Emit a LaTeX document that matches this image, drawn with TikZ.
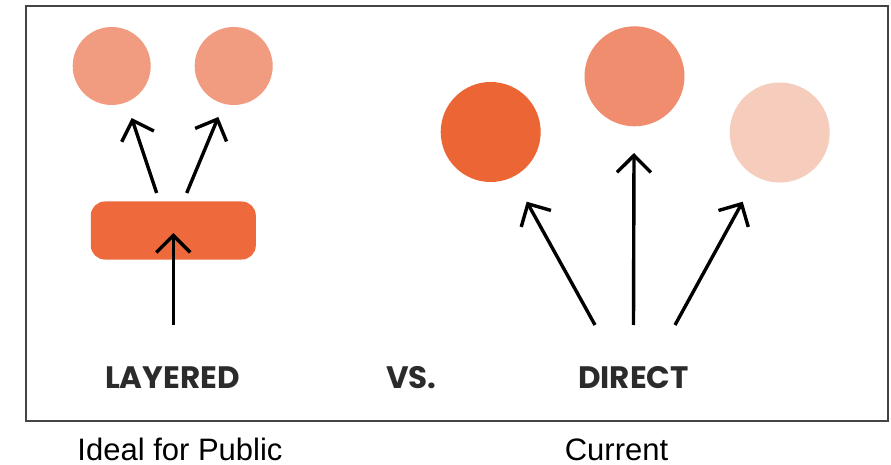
\documentclass[tikz,border=0pt]{standalone}
\usepackage{fontspec}
\setmainfont{Liberation Sans}
\newfontfamily\headfont{Poppins}
\usetikzlibrary{arrows.meta}
\definecolor{salmon}{HTML}{F19C80}
\definecolor{deeporange}{HTML}{EC6535}
\definecolor{midorange}{HTML}{F08D6E}
\definecolor{paleorange}{HTML}{F6CCBC}
\definecolor{barorange}{HTML}{EE6A3C}
\definecolor{framegray}{HTML}{444444}
\definecolor{headgray}{HTML}{2B2B2B}
\tikzset{
  dot/.style={circle, inner sep=0pt, minimum size=#1, draw=none},
  arr/.style={line width=3.4pt, black, -{Straight Barb[length=17pt, width=34pt]}},
  head/.style={font=\headfont\bfseries\fontsize{31}{34}\selectfont, text=headgray, anchor=base, inner sep=0pt},
  caption/.style={font=\fontsize{31}{36}\selectfont, anchor=base, inner sep=0pt}
}
\begin{document}
\begin{tikzpicture}[x=1pt, y=-1pt]
\useasboundingbox (0,0) rectangle (891,465);
\fill[white] (0,0) rectangle (891,465);
\draw[framegray, line width=2.2pt] (26,6) rectangle (888,421) ;
% left: layered
\node[dot=78pt, fill=salmon] (l1) at (111.7,66) {};
\node[dot=78pt, fill=salmon] (l2) at (233.7,66) {};
\node[fill=barorange, rounded corners=14pt, minimum width=165pt, minimum height=58pt, inner sep=0pt] (bar) at (173.3,230.5) {};
\coordinate (la1s) at (156.7,193);
\coordinate (la1e) at (131.7,118);
\coordinate (la2s) at (186.7,193);
\coordinate (la2e) at (218.3,117);
\coordinate (lcs) at (173.3,325);
\coordinate (lce) at (173.3,233);
\draw[arr] (la1s) -- (la1e);
\draw[arr] (la2s) -- (la2e);
\draw[arr] (lcs) -- (lce);
% right: direct
\node[dot=100pt, fill=deeporange] (r1) at (490.7,132) {};
\node[dot=100pt, fill=midorange] (r2) at (634.5,76.3) {};
\node[dot=100pt, fill=paleorange] (r3) at (779.7,132.5) {};
\coordinate (ra1s) at (595,325);
\coordinate (ra1e) at (526.7,201.7);
\coordinate (ra2s) at (633.5,325);
\coordinate (ra2e) at (634,153);
\coordinate (ra3s) at (675,325);
\coordinate (ra3e) at (742.7,201.7);
\draw[arr] (ra1s) -- (ra1e);
\draw[arr] (ra2s) -- (ra2e);
\draw[arr] (ra3s) -- (ra3e);
% labels
\node[head] (layered) at (172.5,388) {LAYERED};
\node[head] (vs) at (411.5,388) {VS.};
\node[head] (direct) at (633.5,388) {DIRECT};
\node[caption] (ideal) at (180,460) {Ideal for Public};
\node[caption] (current) at (616.5,460) {Current};
\end{tikzpicture}
\end{document}
